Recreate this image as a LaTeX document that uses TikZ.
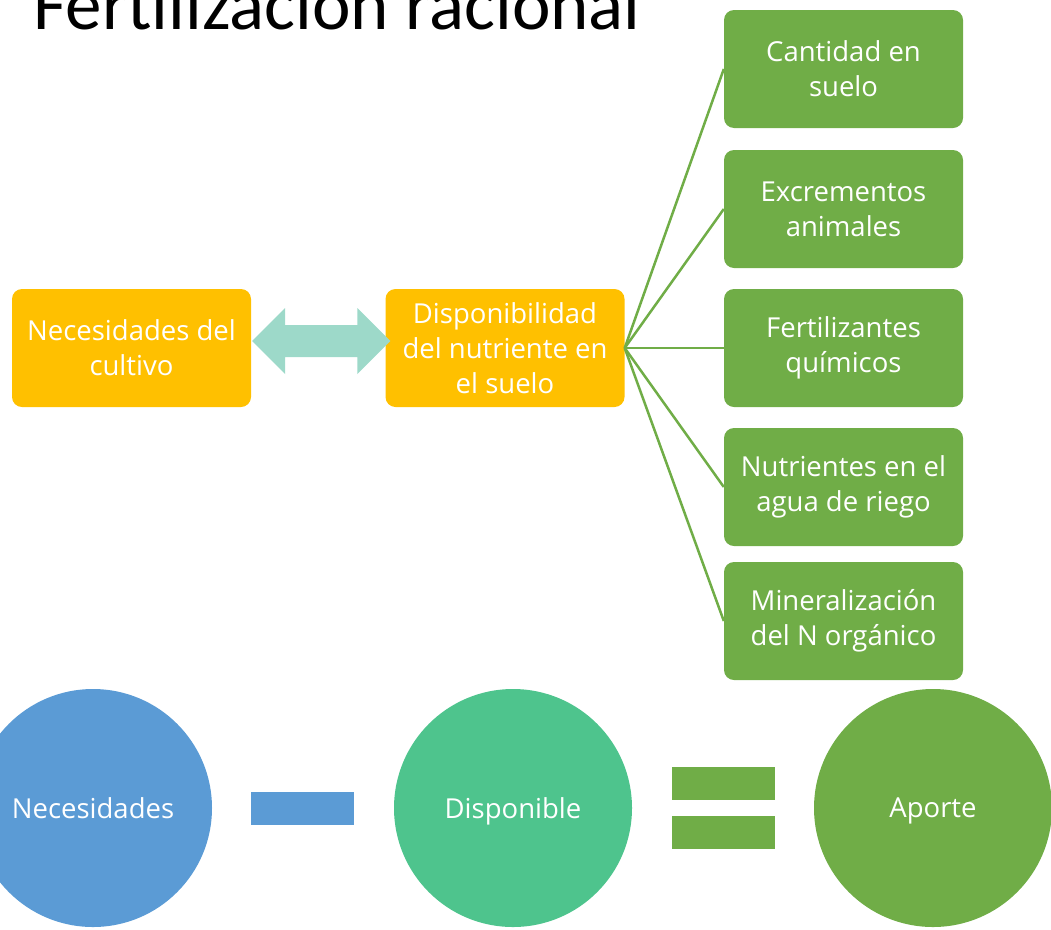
\documentclass[tikz,border=0pt]{standalone}
\usepackage{fontspec}
\setmainfont{Open Sans}
\newfontfamily\titlefont[Ligatures=NoCommon]{Carlito}
\usetikzlibrary{calc}
\definecolor{cropyellow}{HTML}{FFC000}
\definecolor{leafgreen}{HTML}{70AD47}
\definecolor{skyblue}{HTML}{5B9BD5}
\definecolor{mintteal}{HTML}{9DD9C9}
\definecolor{soilgreen}{HTML}{4EC48D}

\tikzset{
  yellowbox/.style={fill=cropyellow, rounded corners=10pt, minimum width=239pt, minimum height=118pt,
    text=white, align=center, inner sep=0pt, font=\fontsize{27.5}{35}\selectfont},
  sourcebox/.style={yellowbox, fill=leafgreen},
  bigdisc/.style={circle, minimum size=238pt, inner sep=0pt, text depth=0pt, text=white, font=\fontsize{27.5}{35}\selectfont},
  signbar/.style={minimum width=103pt, minimum height=33pt, inner sep=0pt},
  spoke/.style={leafgreen, line width=2.5pt},
}

\begin{document}
\begin{tikzpicture}[x=1pt, y=-1pt]
  \useasboundingbox (0,0) rectangle (1051,929);

  \node[anchor=base west, inner sep=0pt, font=\titlefont\fontsize{73}{73}\selectfont] (title) at (33,29) {Fertilización racional};

  % crop needs vs. soil availability
  \node[yellowbox] (need) at (131.5,348) {Necesidades del\\cultivo};
  \node[yellowbox] (avail) at (505,348) {Disponibilidad\\del nutriente en\\el suelo};

  % double arrow between the two yellow boxes
  \coordinate (tipL) at ($(need.east)+(1,-7)$);
  \coordinate (tipR) at ($(avail.west)+(5,-7)$);
  \fill[mintteal] (tipL) -- ++(33,-33) -- ++(0,17) -- ($(tipR)+(-33,-16)$) -- ++(0,-17) -- (tipR)
    -- ++(-33,33) -- ++(0,-17) -- ($(tipL)+(33,16)$) -- ++(0,17) -- cycle;

  % sources of the nutrient
  \foreach \y/\txt [count=\i] in {
    69/{Cantidad en\\suelo},
    209/{Excrementos\\animales},
    348/{Fertilizantes\\químicos},
    487/{Nutrientes en el\\agua de riego},
    621/{Mineralización\\del N orgánico}} {
    \node[sourcebox] (src\i) at (843.5,\y) {\txt};
  }
  \foreach \i in {1,...,5}
    \draw[spoke] (avail.east) -- (src\i.west);

  % the balance: needs - available = supply
  \node[bigdisc, fill=skyblue] (needs) at (93,808) {Necesidades};
  \node[signbar, fill=skyblue] (minus) at (302.5,808.5) {};
  \node[bigdisc, fill=soilgreen] (avail2) at (513,808) {Disponible};
  \node[signbar, fill=leafgreen] (eqtop) at (723,783.5) {};
  \node[signbar, fill=leafgreen] (eqbot) at (723,832.5) {};
  \node[bigdisc, fill=leafgreen] (supply) at (933,808) {Aporte};
\end{tikzpicture}
\end{document}
